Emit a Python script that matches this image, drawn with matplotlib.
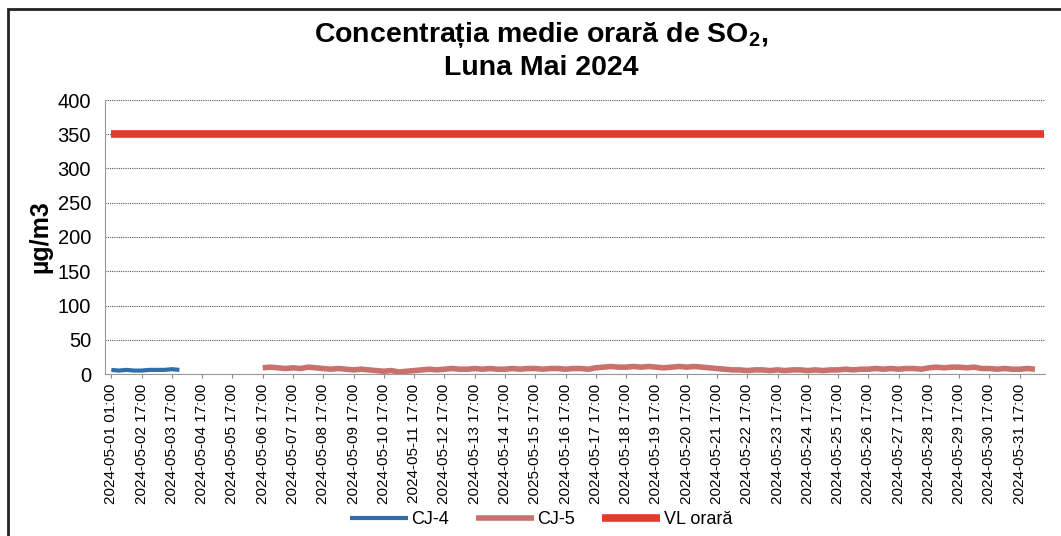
import matplotlib.pyplot as plt
from matplotlib.patches import Rectangle

plt.rcParams['font.family'] = ['Liberation Sans', 'DejaVu Sans']
plt.rcParams['mathtext.fontset'] = 'custom'
plt.rcParams['mathtext.rm'] = 'Liberation Sans:bold'
plt.rcParams['mathtext.bf'] = 'Liberation Sans:bold'

# date orare (un punct pe ora, categorii)
n_ore = 740
limita_vl = 350

# CJ-4: valori la 6 ore, de la ora 0
cj4_start = 0
cj4 = [6, 5, 6, 5, 5, 6, 6, 6, 7, 6]

# CJ-5: valori la 6 ore, din 2024-05-06
cj5_start = 120
cj5 = [9, 10, 9, 8,   9, 8, 10, 9,   8, 7, 8, 7,   6, 7, 6, 5,
       4, 5, 3, 4,    5, 6, 7, 6,    7, 8, 7, 7,   8, 7, 8, 7,
       7, 8, 7, 8,    8, 7, 8, 8,    7, 8, 8, 7,   9, 10, 11, 10,
       10, 11, 10, 11, 10, 9, 10, 11, 10, 11, 10, 9, 8, 7, 6, 6,
       5, 6, 6, 5,    6, 5, 6, 6,    5, 6, 5, 6,   6, 7, 6, 7,
       7, 8, 7, 8,    7, 8, 8, 7,    9, 10, 9, 10, 10, 9, 10, 8,
       8, 7, 8, 7,    7, 8, 7]

# etichete axa x (una la 24 de randuri)
zile = ['2024-05-01', '2024-05-02', '2024-05-03', '2024-05-04', '2024-05-05',
        '2024-05-06', '2024-05-07', '2024-05-08', '2024-05-09', '2024-05-10',
        '2024-05-11', '2024-05-12', '2024-05-13', '2024-05-14', '2025-05-15',
        '2024-05-16', '2024-05-17', '2024-05-18', '2024-05-19', '2024-05-20',
        '2024-05-21', '2024-05-22', '2024-05-23', '2024-05-24', '2024-05-25',
        '2024-05-26', '2024-05-27', '2024-05-28', '2024-05-29', '2024-05-30',
        '2024-05-31']
ore = ['01:00'] + ['17:00'] * 30
etichete = [z + ' ' + o for z, o in zip(zile, ore)]
pas_eticheta = 24

fig = plt.figure(figsize=[10.61, 5.36], dpi=100, facecolor='white')
ax = fig.add_axes([105 / 1061, 1 - 374 / 536, 940 / 1061, 274 / 536])

x4 = [cj4_start + 6 * i for i in range(len(cj4))]
x5 = [cj5_start + 6 * i for i in range(len(cj5))]

ax.plot(x4, cj4, color='#2f6ea8', linewidth=3, solid_capstyle='butt', label='CJ-4')
ax.plot(x5, cj5, color='#c8716d', linewidth=4, solid_capstyle='butt', label='CJ-5')
ax.plot([0, n_ore - 1], [limita_vl, limita_vl], color='#e8392f', linewidth=5.5,
        solid_capstyle='butt', label='VL orară')

ax.set_xlim(-5, n_ore)
ax.set_ylim(0, 400)
ax.set_yticks(range(0, 401, 50))
ax.tick_params(axis='y', labelsize=14.5, length=0, pad=10)
ax.set_xticks([i * pas_eticheta for i in range(len(etichete))])
ax.set_xticklabels(etichete, rotation=90, fontsize=11)
ax.tick_params(axis='x', length=3, color='#888888', pad=4)

ax.grid(axis='y', linestyle=(0, (1, 1)), color='#555555', linewidth=0.8)
ax.set_axisbelow(True)
for s in ax.spines.values():
    s.set_color('#999999')
    s.set_linestyle((0, (1, 1)))
    s.set_linewidth(0.8)
ax.spines['top'].set_visible(False)
ax.spines['right'].set_visible(False)

ax.set_ylabel('µg/m3', fontsize=18, fontweight='bold', labelpad=4)

fig.text(0.51, 1 - 35 / 536, 'Concentrația medie orară de SO$_{2}$,', ha='center', va='center',
         fontsize=20.5, fontweight='bold')
fig.text(0.51, 1 - 68 / 536, 'Luna Mai 2024', ha='center', va='center',
         fontsize=20.5, fontweight='bold')

fig.legend(loc='center', bbox_to_anchor=(0.51, 1 - 520 / 536), ncol=3, frameon=False,
           fontsize=13, handlelength=3.2, columnspacing=1.5, handletextpad=0.2)

# chenar exterior
fig.patches.append(Rectangle((8 / 1061, -0.01), 1.1, 1 - 9 / 536 + 0.01, transform=fig.transFigure,
                             fill=False, edgecolor='#222222', linewidth=2))

fig.savefig('out.png', dpi=100, facecolor='white')
